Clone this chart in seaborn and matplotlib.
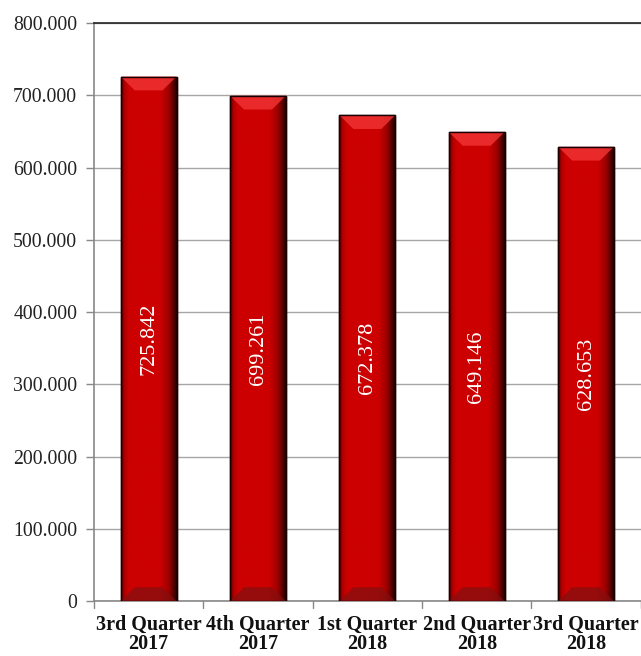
import numpy as np
import pandas as pd
import matplotlib
matplotlib.use("Agg")
import matplotlib.pyplot as plt
import seaborn as sns
from matplotlib.colors import LinearSegmentedColormap

categories = ["3rd Quarter\n2017", "4th Quarter\n2017", "1st Quarter\n2018", "2nd Quarter\n2018", "3rd Quarter\n2018"]
values = [725842, 699261, 672378, 649146, 628653]
value_labels = ["725.842", "699.261", "672.378", "649.146", "628.653"]
yticks = [0, 100000, 200000, 300000, 400000, 500000, 600000, 700000, 800000]
ytick_labels = ["0", "100.000", "200.000", "300.000", "400.000", "500.000", "600.000", "700.000", "800.000"]

sns.set_theme(style="white")
plt.rcParams['font.family'] = ['Liberation Serif', 'DejaVu Serif']

df = pd.DataFrame({"cat": categories, "val": values})

fig = plt.figure(figsize=(6.41, 6.56), dpi=100)
ax = fig.add_axes([0.1466, 0.0838, 0.853, 0.8811])

sns.barplot(data=df, x="cat", y="val", color="#CC0000", width=0.51, ax=ax,
            edgecolor="#300000", linewidth=1.0, saturation=1, zorder=3)

ax.set_ylim(0, 800000)
ax.set_xlim(-0.5, 4.5)
ax.set_yticks(yticks)
ax.set_yticklabels(ytick_labels, fontsize=14.2, color="#222222")
ax.set_xticks(range(len(categories)))
ax.set_xticklabels(categories, fontsize=14.5, fontweight="bold", color="#111111", linespacing=0.92)
ax.tick_params(axis="x", length=0, pad=10)
ax.tick_params(axis="y", length=6, color="#888888", width=1, direction="out", left=True, pad=6)
for b in np.arange(-0.5, 5.0, 1.0):
    ax.plot([b, b], [0, -9000], color="#888888", lw=1, clip_on=False, zorder=4)
ax.set_xlabel("")
ax.set_ylabel("")
ax.yaxis.grid(True, color="#A6A6A6", lw=1, zorder=0)
ax.set_axisbelow(True)

for s in ["left", "bottom"]:
    ax.spines[s].set_color("#888888")
    ax.spines[s].set_linewidth(1.2)
ax.spines["top"].set_color("#222222")
ax.spines["top"].set_linewidth(1.2)
ax.spines["right"].set_visible(False)

# gradient shading on bars (cylinder-like bevel)
cmap = LinearSegmentedColormap.from_list(
    "bev",
    [(0.0, "#3a0000"), (0.06, "#b00000"), (0.14, "#cc0000"), (0.7, "#cc0000"),
     (0.85, "#a00000"), (0.95, "#500000"), (1.0, "#1a0000")])
grad = np.linspace(0, 1, 256).reshape(1, -1)
bev = 19000
for p in ax.patches:
    x0, y0 = p.get_x(), p.get_y()
    w, h = p.get_width(), p.get_height()
    im = ax.imshow(grad, cmap=cmap, aspect="auto", extent=[x0, x0 + w, y0, y0 + h], zorder=3.5, interpolation="bicubic")
    im.set_clip_path(p)
    # top bevel highlight
    ax.fill([x0, x0 + w, x0 + w * 0.75, x0 + w * 0.25], [y0 + h, y0 + h, y0 + h - bev, y0 + h - bev],
            color="#f23535", alpha=0.8, zorder=3.6, lw=0)
    # bottom bevel shadow
    ax.fill([x0, x0 + w, x0 + w * 0.75, x0 + w * 0.25], [y0, y0, y0 + bev, y0 + bev],
            color="#801010", alpha=0.7, zorder=3.6, lw=0)
    ax.add_patch(plt.Rectangle((x0, y0), w, h, fill=False, edgecolor="#1a0000", lw=1.0, zorder=3.7))

ax.set_xlim(-0.5, 4.5)
ax.set_ylim(0, 800000)

for i, (v, lab) in enumerate(zip(values, value_labels)):
    ax.text(i, v / 2, lab, rotation=90, ha="center", va="center", color="white", fontsize=16, zorder=5)

fig.savefig("out.png", dpi=100)
